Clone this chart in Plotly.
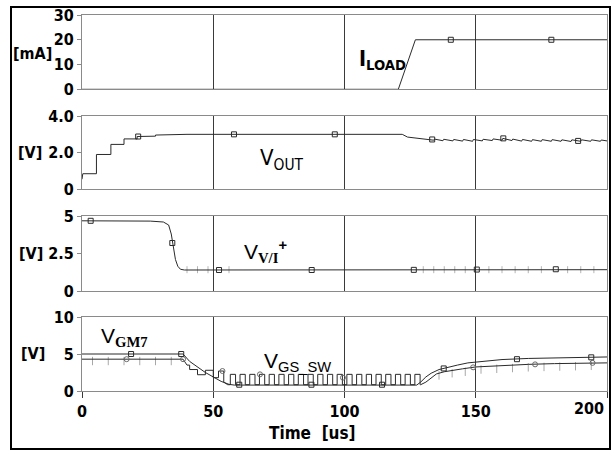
import plotly.graph_objects as go
from plotly.subplots import make_subplots

# ---------------- data ----------------
time_ticks = [0, 50, 100, 150, 200]
time_tick_labels = ["0", "50", "100", "150", ""]

# Panel 1: I_LOAD [mA]
iload_t = [0, 120.5, 127, 200]
iload_v = [0, 0, 20, 20]
iload_mk_t = [140.5, 178.8]
iload_mk_v = [20, 20]

# Panel 2: V_OUT [V]
vout_t = [0, 0.3, 5.5, 5.5, 11, 11, 16, 16, 21, 21, 28, 28, 40, 122, 124, 127, 130, 132,
          134, 134.3, 137.5, 137.8, 141.3, 141.6, 145, 145.3, 148.8, 149.1, 152.5, 152.8,
          156.3, 156.6, 160, 160.3, 163.8, 164.1, 167.5, 167.8, 171.3, 171.6, 175, 175.3,
          178.8, 179.1, 182.5, 182.8, 186.3, 186.6, 190, 190.3, 193.8, 194.1, 197.5, 197.8, 200]
vout_v = [0.55, 0.85, 0.85, 1.9, 1.9, 2.45, 2.45, 2.75, 2.75, 2.88, 2.9, 2.96, 3.0, 3.0, 2.85, 2.8, 2.78, 2.74,
          2.68, 2.74, 2.65, 2.73, 2.64, 2.72, 2.63, 2.72, 2.62, 2.72, 2.64, 2.73,
          2.66, 2.75, 2.68, 2.78, 2.66, 2.74, 2.63, 2.72, 2.62, 2.71, 2.62, 2.71,
          2.62, 2.71, 2.62, 2.70, 2.61, 2.70, 2.62, 2.70, 2.62, 2.70, 2.62, 2.69, 2.64]
vout_mk_t = [21.4, 57.9, 96.3, 133.4, 160.5, 189]
vout_mk_v = [2.88, 3.0, 3.0, 2.72, 2.78, 2.64]

# Panel 3: V_V/I+ [V]
vvi_t = [0, 26, 31, 33, 34, 34.8, 35.6, 36.5, 37.5, 39, 200]
vvi_v = [4.68, 4.66, 4.6, 4.4, 3.8, 3.0, 2.1, 1.65, 1.45, 1.4, 1.42]
vvi_mk_t = [3.3, 34.4, 52.2, 87.5, 126.4, 150.4, 180.5]
vvi_mk_v = [4.68, 3.2, 1.4, 1.4, 1.41, 1.43, 1.45]
vvi_tick_t = [40, 44, 48, 56, 130, 134, 138, 142, 146, 155, 160, 165, 170, 175, 185, 190, 195]
vvi_tick_v = [1.42] * 17

# Panel 4: V_GM7 and V_GS_SW [V]
gm7_t = [0, 38.5, 41, 44, 47, 50, 53, 56, 58, 127.5, 129, 131, 133, 136, 139, 143, 147, 150,
         155, 160, 170, 180, 190, 200]
gm7_v = [5.0, 5.0, 4.0, 3.2, 2.5, 1.9, 1.3, 0.9, 0.8, 0.8, 1.2, 1.9, 2.4, 2.9, 3.2, 3.5, 3.8, 3.9,
         4.1, 4.25, 4.4, 4.5, 4.55, 4.6]
gm7_mk_t = [18.7, 37.8, 59.9, 87.4, 114.3, 137.8, 165.7, 194]
gm7_mk_v = [5.0, 5.0, 0.85, 0.85, 0.85, 3.05, 4.3, 4.55]

gssw_head_t = [0, 38.5, 40, 41, 41, 44, 44, 47, 47, 50, 50, 52, 52, 54, 54, 55.5]
gssw_head_v = [4.3, 4.3, 3.5, 3.5, 2.9, 2.9, 2.2, 2.2, 2.8, 2.8, 1.8, 1.8, 2.7, 2.7, 1.2, 0.85]
pulse_rise = [56.5, 60.2, 63.9, 67.6, 71.3, 75.0, 78.7, 82.4, 86.1, 89.8,
              93.5, 97.2, 100.9, 104.6, 108.3, 112.0, 115.7, 119.4, 123.1, 126.8]
pulse_fall = [58.5, 62.2, 65.9, 69.6, 73.3, 77.0, 80.7, 84.4, 88.1, 91.8,
              95.5, 99.2, 102.9, 106.6, 110.3, 114.0, 117.7, 121.4, 125.1, 128.8]
pulse_low = 0.85
pulse_high = 2.25
gssw_tail_t = [129, 131, 133, 135, 138, 141, 145, 150, 160, 170, 180, 190, 200]
gssw_tail_v = [0.85, 1.2, 1.8, 2.3, 2.6, 2.8, 3.0, 3.25, 3.45, 3.6, 3.7, 3.75, 3.8]
gssw_mk_t = [17, 38.5, 53.5, 67.8, 99.4, 149, 172.6, 194.5]
gssw_mk_v = [4.3, 4.3, 2.7, 2.25, 1.8, 3.2, 3.6, 3.8]
gssw_tick_t = [4, 10, 16, 22, 28, 34, 136, 141, 146, 152, 158, 164, 170, 176, 182, 188, 194]
gssw_tick_v = [4.05, 4.05, 4.05, 4.05, 4.05, 4.05, 2.1, 2.4, 2.6, 2.9, 3.0, 3.1, 3.2, 3.25, 3.3, 3.35, 3.4]

# ---------------- figure ----------------
FONT = "Liberation Sans Narrow, DejaVu Sans Condensed, Arial Narrow, sans-serif"
SANS = "Liberation Sans, Arial, sans-serif"
SERIF = "Liberation Serif, Times New Roman, serif"
LINE = "#2a2a2a"
FRAME = "#8a8a8a"
GRID = "#3a3a3a"

fig = make_subplots(rows=4, cols=1, shared_xaxes=True)

def add_line(t, v, row):
    fig.add_trace(go.Scatter(x=t, y=v, mode="lines", line=dict(color=LINE, width=1),
                             showlegend=False, hoverinfo="skip"), row=row, col=1)

def add_marks(t, v, row, symbol="square-open", color=LINE, size=5):
    fig.add_trace(go.Scatter(x=t, y=v, mode="markers",
                             marker=dict(symbol=symbol, size=size, color=color,
                                         line=dict(color=color, width=1)),
                             showlegend=False, hoverinfo="skip"), row=row, col=1)

add_line(iload_t, iload_v, 1)
add_marks(iload_mk_t, iload_mk_v, 1)

add_line(vout_t, vout_v, 2)
add_marks(vout_mk_t, vout_mk_v, 2)

add_marks(vvi_tick_t, vvi_tick_v, 3, symbol="line-ns", color="#b5b5b5", size=5)
add_line(vvi_t, vvi_v, 3)
add_marks(vvi_mk_t, vvi_mk_v, 3)

# build V_GS_SW polyline from its pieces
gs_t = list(gssw_head_t)
gs_v = list(gssw_head_v)
for r, f in zip(pulse_rise, pulse_fall):
    gs_t += [r, r, f, f]
    gs_v += [pulse_low, pulse_high, pulse_high, pulse_low]
gs_t += gssw_tail_t
gs_v += gssw_tail_v

add_marks(gssw_tick_t, gssw_tick_v, 4, symbol="line-ns", color="#a8a8a8", size=6)
add_line(gs_t, gs_v, 4)
add_marks(gssw_mk_t, gssw_mk_v, 4, symbol="circle-open", color="#6a6a6a", size=5)
add_line(gm7_t, gm7_v, 4)
add_marks(gm7_mk_t, gm7_mk_v, 4)

L, R, T, B = 82, 4, 15, 60
W, H = 611, 451
PW = W - L - R
PH = H - T - B

def py(p):
    return (H - B - p) / PH

def px(p):
    return (p - L) / PW

panels = [(15, 89.3), (116, 189.3), (216, 291), (317, 391)]
y_ranges = [[0, 30], [0, 4], [0, 5], [0, 10]]
y_tickvals = [[0, 10, 20, 30], [0, 2, 4], [0, 2.5, 5], [0, 5, 10]]
y_ticktext = [["0", "10", "20", "30"], ["0", "2.0", "4.0"], ["0", "2.5", "5"], ["0", "5", "10"]]

tickfont = dict(family=FONT, size=16, color="black", weight="bold")

for i, (top, bot) in enumerate(panels):
    n = "" if i == 0 else str(i + 1)
    fig.layout["yaxis" + n].update(
        domain=[py(bot), py(top)], range=y_ranges[i], tickvals=y_tickvals[i],
        ticktext=y_ticktext[i], showgrid=False, zeroline=False, showline=True,
        linecolor=FRAME, linewidth=1, mirror=True, ticks="outside", ticklen=4,
        tickcolor=FRAME, tickfont=tickfont, fixedrange=True)
    fig.layout["xaxis" + n].update(
        range=[0, 200], tickvals=time_ticks, ticktext=time_tick_labels,
        showgrid=True, gridcolor=GRID, gridwidth=1, zeroline=False, showline=True,
        linecolor=FRAME, linewidth=1, mirror=True,
        ticks="outside" if i == 3 else "", ticklen=6, tickcolor=GRID,
        showticklabels=(i == 3), tickfont=tickfont, fixedrange=True)

ann = []
unit_labels = [("[mA]", 32, 53), ("[V]", 30, 152), ("[V]", 31, 253), ("[V]", 33, 353)]
for txt, x, y in unit_labels:
    ann.append(dict(text=txt, x=px(x), y=py(y), xref="paper", yref="paper",
                    showarrow=False, xanchor="center", yanchor="middle",
                    font=dict(family=FONT, size=16, color="black", weight="bold")))

ann.append(dict(text="200", x=px(606), y=py(408), xref="paper", yref="paper",
                showarrow=False, xanchor="right", yanchor="middle",
                font=dict(family=FONT, size=16, color="black", weight="bold")))
ann.append(dict(text="Time  [us]", x=px(312), y=py(433), xref="paper", yref="paper",
                showarrow=False, xanchor="center", yanchor="middle",
                font=dict(family=FONT, size=17, color="black", weight="bold")))

# trace labels (data coordinates)
ann.append(dict(text="<b>I<sub>LOAD</sub></b>", x=114.5, y=12, xref="x", yref="y",
                showarrow=False, font=dict(family=FONT, size=21, color="black")))
ann.append(dict(text="V<sub>OUT</sub>", x=76, y=1.6, xref="x2", yref="y2",
                showarrow=False, font=dict(family=FONT, size=22, color="black")))
ann.append(dict(text=("V<sub><span style='font-family:" + SERIF + "'><b>V/I</b></span></sub>"
                      "<sup><b>+</b></sup>"),
                x=70, y=2.6, xref="x3", yref="y3",
                showarrow=False, font=dict(family=SANS, size=21, color="black")))
ann.append(dict(text=("V<sub><span style='font-family:" + SERIF + "'><b>GM7</b></span></sub>"),
                x=16, y=7.3, xref="x4", yref="y4",
                showarrow=False, font=dict(family=SANS, size=21, color="black")))
ann.append(dict(text="V<sub>GS_SW</sub>", x=82, y=3.9, xref="x4", yref="y4",
                showarrow=False, font=dict(family=SANS, size=21, color="black")))

fig.update_layout(
    width=W, height=H, margin=dict(l=L, r=R, t=T, b=B),
    paper_bgcolor="white", plot_bgcolor="white", showlegend=False,
    annotations=ann,
    shapes=[dict(type="rect", xref="paper", yref="paper",
                 x0=px(11), x1=px(610), y0=py(449), y1=py(7),
                 line=dict(color="black", width=2))],
)

fig.write_html("out.html")
